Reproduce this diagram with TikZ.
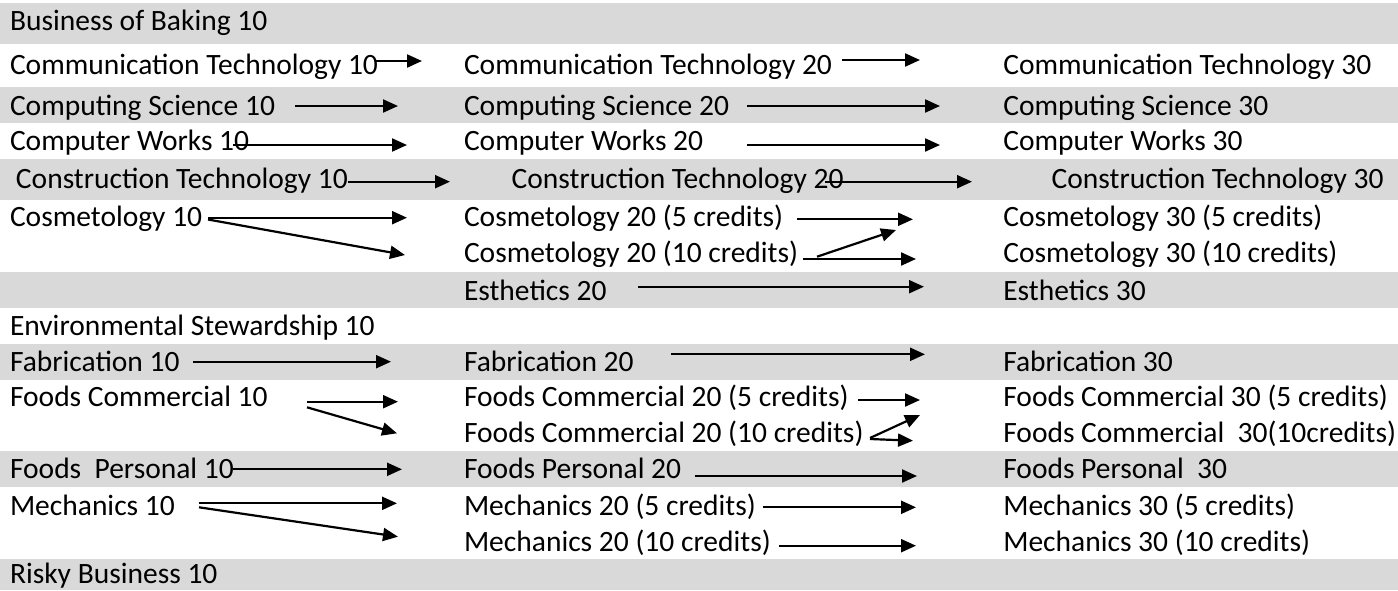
\documentclass[tikz,border=0pt]{standalone}
\usepackage{fontspec}
\setmainfont{Carlito}
\usetikzlibrary{arrows.meta}
\definecolor{band}{RGB}{217,217,217}
\tikzset{
  lbl/.style={anchor=base west,inner sep=0pt,outer sep=0pt,font=\fontsize{29.5}{36}\selectfont},
  arr/.style={line width=2.2pt,-{Triangle[length=15pt,width=13pt]}},
  bandbox/.style={fill=band,draw=none}
}
\begin{document}
\begin{tikzpicture}[x=1pt,y=-1pt]
\useasboundingbox (0,0) rectangle (1398,590);
% bands
\fill[band] (0,3) rectangle (1398,44);
\fill[band] (0,87) rectangle (1398,123);
\fill[band] (0,159) rectangle (1398,200);
\fill[band] (0,272) rectangle (1398,308);
\fill[band] (0,344) rectangle (1398,380);
\fill[band] (0,451) rectangle (1398,487);
\fill[band] (0,559) rectangle (1398,590);
% column 1
\node[lbl] (bb1) at (10,30.7) {Business of Baking 10};
\node[lbl] (ct1) at (10,74) {Communication Technology 10};
\node[lbl] (cs1) at (10,115) {Computing Science 10};
\node[lbl] (cw1) at (10,150) {Computer Works 10};
\node[lbl] (cn1) at (16,188) {Construction Technology 10};
\node[lbl] (co1) at (10,226.7) {Cosmetology 10};
\node[lbl] (es1) at (10,335) {Environmental Stewardship 10};
\node[lbl] (fa1) at (10,371.7) {Fabrication 10};
\node[lbl] (fc1) at (10,406.7) {Foods Commercial 10};
\node[lbl] (fp1) at (10,478) {Foods\ \ Personal 10};
\node[lbl] (me1) at (10,515) {Mechanics 10};
\node[lbl] (rb1) at (10,583.5) {Risky Business 10};
% column 2
\node[lbl] (ct2) at (464,74) {Communication Technology 20};
\node[lbl] (cs2) at (464,115) {Computing Science 20};
\node[lbl] (cw2) at (464,150) {Computer Works 20};
\node[lbl] (cn2) at (511.7,188) {Construction Technology 20};
\node[lbl] (co2a) at (464,226.7) {Cosmetology 20 (5 credits)};
\node[lbl] (co2b) at (464,262.7) {Cosmetology 20 (10 credits)};
\node[lbl] (et2) at (464,300) {Esthetics 20};
\node[lbl] (fa2) at (464,371.7) {Fabrication 20};
\node[lbl] (fc2a) at (464,406.7) {Foods Commercial 20 (5 credits)};
\node[lbl] (fc2b) at (464,442.7) {Foods Commercial 20 (10 credits)};
\node[lbl] (fp2) at (464,478) {Foods Personal 20};
\node[lbl] (me2a) at (464,515) {Mechanics 20 (5 credits)};
\node[lbl] (me2b) at (464,551.7) {Mechanics 20 (10 credits)};
% column 3
\node[lbl] (ct3) at (1003.3,74) {Communication Technology 30};
\node[lbl] (cs3) at (1003.3,115) {Computing Science 30};
\node[lbl] (cw3) at (1003.3,150) {Computer Works 30};
\node[lbl] (cn3) at (1051.7,188) {Construction Technology 30};
\node[lbl] (co3a) at (1003.3,226.7) {Cosmetology 30 (5 credits)};
\node[lbl] (co3b) at (1003.3,262.7) {Cosmetology 30 (10 credits)};
\node[lbl] (et3) at (1003.3,300) {Esthetics 30};
\node[lbl] (fa3) at (1003.3,371.7) {Fabrication 30};
\node[lbl] (fc3a) at (1003.3,406.7) {Foods Commercial 30 (5 credits)};
\node[lbl] (fc3b) at (1003.3,442.7) {Foods Commercial\ \ 30(10credits)};
\node[lbl] (fp3) at (1003.3,478) {Foods Personal\ \ 30};
\node[lbl] (me3a) at (1003.3,515) {Mechanics 30 (5 credits)};
\node[lbl] (me3b) at (1003.3,551.7) {Mechanics 30 (10 credits)};
% arrow end points
\coordinate (ct1s) at (375,61);    \coordinate (ct1e) at (422,61);
\coordinate (ct2s) at (842,60);    \coordinate (ct2e) at (920,60);
\coordinate (cs1s) at (295,106);   \coordinate (cs1e) at (398,106);
\coordinate (cs2s) at (747,106);   \coordinate (cs2e) at (940,106);
\coordinate (cw1s) at (233,145);   \coordinate (cw1e) at (407,145);
\coordinate (cw2s) at (747,145);   \coordinate (cw2e) at (940,145);
\coordinate (cn1s) at (348,181.7); \coordinate (cn1e) at (450,181.7);
\coordinate (cn2s) at (825,181.7); \coordinate (cn2e) at (972,181.7);
\coordinate (co1s) at (208,217.7); \coordinate (co1e) at (407,217.7);
\coordinate (co1t) at (208,219.5); \coordinate (co1f) at (405,255);
\coordinate (co2s) at (797,219.3); \coordinate (co2e) at (913,219.3);
\coordinate (co2t) at (803,259);   \coordinate (co2f) at (916,259);
\coordinate (co2u) at (817,256.7); \coordinate (co2g) at (896,230);
\coordinate (et2s) at (638,286.7); \coordinate (et2e) at (924,286.7);
\coordinate (fa1s) at (193,361.7); \coordinate (fa1e) at (391,361.7);
\coordinate (fa2s) at (671,354.3); \coordinate (fa2e) at (925,354.3);
\coordinate (fc1s) at (307,401.7); \coordinate (fc1e) at (398,401.7);
\coordinate (fc1t) at (307,407.3); \coordinate (fc1f) at (397,433.3);
\coordinate (fc2s) at (858,400);   \coordinate (fc2e) at (920,400);
\coordinate (fc2t) at (870,438);   \coordinate (fc2f) at (920,415);
\coordinate (fc2u) at (870,439);   \coordinate (fc2g) at (913,440.7);
\coordinate (fp1s) at (233,469.3); \coordinate (fp1e) at (402,469.3);
\coordinate (fp2s) at (695,476);   \coordinate (fp2e) at (917,476);
\coordinate (me1s) at (199,503.3); \coordinate (me1e) at (397,503.3);
\coordinate (me1t) at (199,507.3); \coordinate (me1f) at (398,536.7);
\coordinate (me2s) at (763,507.3); \coordinate (me2e) at (916,507.3);
\coordinate (me2t) at (779,545.7); \coordinate (me2f) at (916,545.7);
% arrows
\foreach \a/\b in {ct1s/ct1e,ct2s/ct2e,cs1s/cs1e,cs2s/cs2e,cw1s/cw1e,cw2s/cw2e,
  cn1s/cn1e,cn2s/cn2e,co1s/co1e,co1t/co1f,co2s/co2e,co2t/co2f,co2u/co2g,
  et2s/et2e,fa1s/fa1e,fa2s/fa2e,fc1s/fc1e,fc1t/fc1f,fc2s/fc2e,fc2t/fc2f,fc2u/fc2g,
  fp1s/fp1e,fp2s/fp2e,me1s/me1e,me1t/me1f,me2s/me2e,me2t/me2f}
  \draw[arr] (\a) -- (\b);
\end{tikzpicture}
\end{document}
